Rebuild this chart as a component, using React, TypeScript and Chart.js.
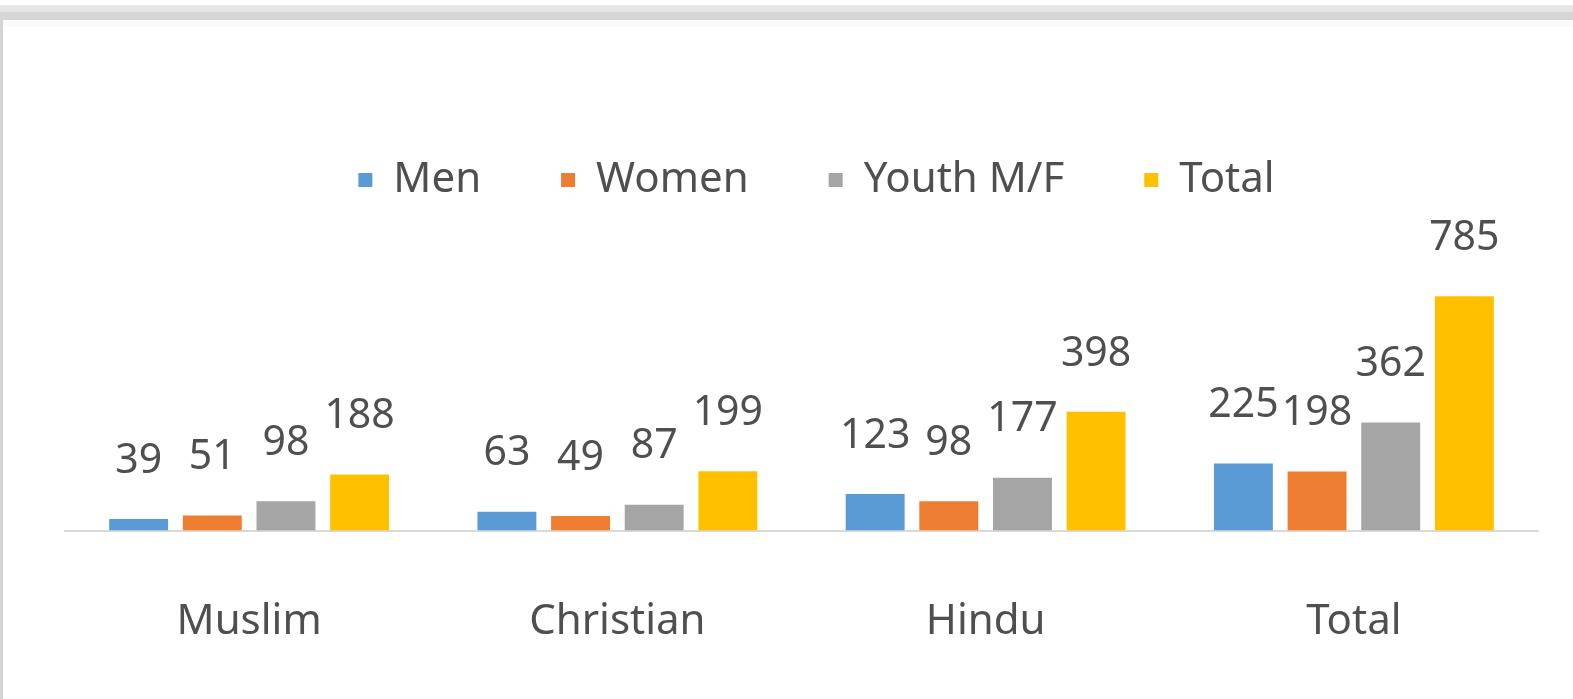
import React, { useEffect, useRef } from "react";
import { Chart, registerables } from "chart.js";

Chart.register(...registerables);

const categories = ["Muslim", "Christian", "Hindu", "Total"];
const seriesNames = ["Men", "Women", "Youth M/F", "Total"];
const menValues = [39, 63, 123, 225];
const womenValues = [51, 49, 98, 198];
const youthValues = [98, 87, 177, 362];
const totalValues = [188, 199, 398, 785];
const seriesColors = ["#5B9BD5", "#ED7D31", "#A5A5A5", "#FFC000"];

const FONT = "'Noto Sans', 'Liberation Sans', sans-serif";
const TEXT_COLOR = "#4F4F4F";

const labelPlugin = {
  id: "barValueLabels",
  afterLayout(chart: any) {
    if (chart.legend) {
      chart.legend.left += 15;
      chart.legend.right += 15;
    }
  },
  afterDatasetsDraw(chart: any) {
    const ctx = chart.ctx;
    ctx.save();
    ctx.font = `41px ${FONT}`;
    ctx.fillStyle = TEXT_COLOR;
    ctx.textAlign = "center";
    ctx.textBaseline = "middle";
    chart.data.datasets.forEach((ds: any, di: number) => {
      const meta = chart.getDatasetMeta(di);
      meta.data.forEach((bar: any, i: number) => {
        ctx.fillText(String(ds.data[i]), bar.x, bar.y - 58);
      });
    });
    ctx.restore();
  },
};

export default function App() {
  const canvasRef = useRef<HTMLCanvasElement | null>(null);

  useEffect(() => {
    if (!canvasRef.current) return;
    const allSeries = [menValues, womenValues, youthValues, totalValues];
    const chart = new Chart(canvasRef.current, {
      type: "bar",
      data: {
        labels: categories,
        datasets: seriesNames.map((name, i) => ({
          label: name,
          data: allSeries[i],
          backgroundColor: seriesColors[i],
          barPercentage: 0.8,
          categoryPercentage: 0.8,
        })),
      },
      options: {
        animation: false,
        responsive: false,
        maintainAspectRatio: false,
        layout: { padding: { top: 79, left: 65, right: 35, bottom: -14 } },
        plugins: {
          legend: {
            position: "top",
            labels: {
              font: { family: FONT, size: 42 },
              color: TEXT_COLOR,
              boxWidth: 14,
              boxHeight: 14,
              padding: 80,
            },
          },
          tooltip: { enabled: false },
        },
        scales: {
          x: {
            grid: { display: false, drawTicks: false },
            border: { display: true, color: "#D9D9D9", width: 2 },
            ticks: {
              font: { family: FONT, size: 42 },
              color: TEXT_COLOR,
              padding: 66,
            },
          },
          y: {
            display: false,
            min: 0,
            max: 1071,
          },
        },
      },
      plugins: [labelPlugin],
    });
    return () => chart.destroy();
  }, []);

  return (
    <div
      style={{
        position: "fixed",
        left: 0,
        top: 0,
        width: 1573,
        height: 699,
        background: "#ffffff",
        overflow: "hidden",
      }}
    >
      <div style={{ position: "absolute", left: 0, top: 5, width: 1573, height: 7, background: "#E6E6E6" }} />
      <div style={{ position: "absolute", left: 0, top: 12, width: 1573, height: 8, background: "#D6D6D6" }} />
      <div style={{ position: "absolute", left: 0, top: 20, width: 1573, height: 7, background: "#FAFAFA" }} />
      <div style={{ position: "absolute", left: 0, top: 20, width: 3, height: 679, background: "#D4D4D4" }} />
      <canvas
        ref={canvasRef}
        width={1573}
        height={699}
        style={{ position: "absolute", left: 0, top: 0, width: 1573, height: 699 }}
      />
    </div>
  );
}
